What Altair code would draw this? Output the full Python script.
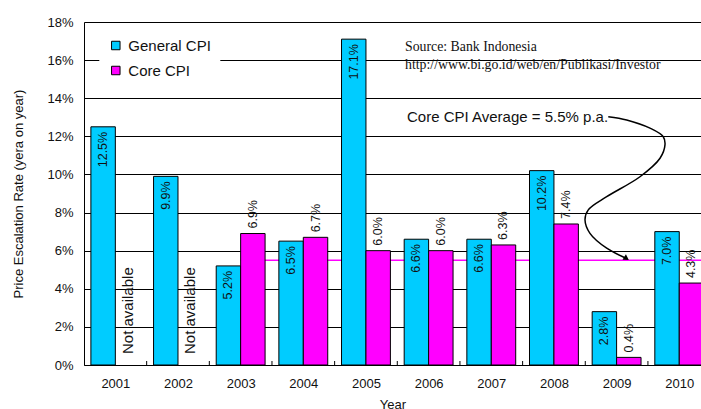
import altair as alt
import pandas as pd

# Annual CPI inflation, Indonesia
years = [2001, 2002, 2003, 2004, 2005, 2006, 2007, 2008, 2009, 2010]
general_cpi = [12.5, 9.9, 5.2, 6.5, 17.1, 6.6, 6.6, 10.2, 2.8, 7.0]
core_cpi = [None, None, 6.9, 6.7, 6.0, 6.0, 6.3, 7.4, 0.4, 4.3]
series_names = ["General CPI", "Core CPI"]
series_colors = ["#00CCFF", "#FF00FF"]
y_ticks = [0, 2, 4, 6, 8, 10, 12, 14, 16, 18]
band_edges = [2001.5, 2002.5, 2003.5, 2004.5, 2005.5, 2006.5, 2007.5, 2008.5, 2009.5]

# Annotation anchors (year, percent)
source_lines = ["Source: Bank Indonesia", "http://www.bi.go.id/web/en/Publikasi/Investor"]
source_year = [2005.623, 2005.623]
source_pct = [16.70, 15.74]
avg_note_year = 2005.655
avg_note_pct = 13.03
arrow_year = [2008.867, 2009.161, 2009.533, 2009.745, 2009.772, 2009.693, 2009.373,
              2008.842, 2008.548, 2008.496, 2008.575, 2008.842, 2009.158]
arrow_pct = [13.03, 12.86, 12.43, 11.98, 11.55, 10.85, 9.88,
             8.83, 8.14, 7.61, 6.91, 6.13, 5.59]

BAR = 0.39

rows = []
for y, g, c in zip(years, general_cpi, core_cpi):
    rows.append({"year": y, "series": "General CPI", "value": g})
    rows.append({"year": y, "series": "Core CPI", "value": c})
df = pd.DataFrame(rows)
bars_df = df.dropna(subset=["value"]).copy()
na_df = df[(df.series == "Core CPI") & df.value.isna()].copy()

core_vals = [v for v in core_cpi if v is not None]
core_avg = sum(core_vals) / len(core_vals)
first_core_year = min(y for y, c in zip(years, core_cpi) if c is not None)
avg_df = pd.DataFrame({"x": [first_core_year], "x2": [2010.5], "avg": [core_avg]})

xscale = alt.Scale(domain=[2000.5, 2010.347], nice=False, zero=False)
yscale = alt.Scale(domain=[0, 18], nice=False)

x_axis = alt.Axis(values=years, format="d", ticks=False, tickSize=0, grid=False,
                  labelFontSize=13, labelPadding=12, labelColor="#111",
                  domainColor="#000", titleFontSize=13,
                  titleFontWeight="normal", titlePadding=8, titleColor="#111")
y_axis = alt.Axis(values=y_ticks, labelExpr="datum.value + '%'", ticks=False, tickSize=0,
                  grid=True, gridColor="#000", gridWidth=1, domainColor="#000",
                  labelFontSize=13, labelPadding=11, labelColor="#111",
                  titleFontSize=13, titleFontWeight="normal", titlePadding=21, titleColor="#111")

X_TITLE = "Year"
Y_TITLE = "Price Escalation Rate (yera on year)"


def xq(field):
    return alt.X(field, type="quantitative", scale=xscale, axis=x_axis, title=X_TITLE)


def yq(field):
    return alt.Y(field, type="quantitative", scale=yscale, axis=y_axis, title=Y_TITLE)


avg_rule = alt.Chart(avg_df).mark_rule(color="#FF00FF", strokeWidth=1.5).encode(
    x=xq("x"), x2="x2:Q", y=yq("avg"),
)

bar_base = alt.Chart(bars_df).transform_calculate(
    x0=f"datum.series == 'General CPI' ? datum.year - {BAR} : datum.year",
    base="0",
).transform_calculate(
    x1=f"datum.x0 + {BAR}",
    xc=f"datum.x0 + {BAR / 2}",
    label="format(datum.value, '.1f') + '%'",
)

bars = bar_base.mark_bar(stroke="#000", strokeWidth=1).encode(
    x=xq("x0"),
    x2="x1:Q",
    y=yq("value"),
    y2="base:Q",
    color=alt.Color(
        "series:N",
        scale=alt.Scale(domain=series_names, range=series_colors),
        legend=alt.Legend(
            title=None, orient="none", legendX=15.3, legendY=7,
            fillColor="#fff", padding=9, symbolType="square", symbolSize=72,
            symbolStrokeColor="#000", symbolStrokeWidth=1, symbolOpacity=1,
            labelFontSize=15, labelColor="#111", labelOffset=5, rowPadding=9,
            labelFont="Liberation Sans",
        ),
    ),
)

general_labels = bar_base.transform_filter("datum.series == 'General CPI'").mark_text(
    angle=270, align="right", baseline="middle", dx=-5, fontSize=12.5, color="#111"
).encode(x=xq("xc"), y=yq("value"), text="label:N")

core_labels = bar_base.transform_filter("datum.series == 'Core CPI'").mark_text(
    angle=270, align="left", baseline="middle", dx=5, fontSize=12.5, color="#111"
).encode(x=xq("xc"), y=yq("value"), text="label:N")

na_labels = alt.Chart(na_df).transform_calculate(
    xc=f"datum.year + {BAR / 2}", y0="0", txt="'Not available'"
).mark_text(angle=270, align="left", baseline="middle", dx=11, fontSize=15, color="#111").encode(
    x=xq("xc"), y=yq("y0"), text="txt:N",
)

edge_ticks = alt.Chart(pd.DataFrame({"edge": band_edges})).mark_rule(color="#000", strokeWidth=1).encode(
    x=xq("edge"),
    y=alt.value(343),
    y2=alt.value(339),
)

source_text = alt.Chart(pd.DataFrame({"x": source_year, "y": source_pct, "t": source_lines})).mark_text(
    align="left", baseline="middle", font="Liberation Serif", fontSize=13.8, color="#111"
).encode(x=xq("x"), y=yq("y"), text="t:N")

avg_text = alt.Chart(pd.DataFrame({"x": [avg_note_year], "y": [avg_note_pct],
                                   "t": [f"Core CPI Average = {core_avg:.1f}% p.a."]})).mark_text(
    align="left", baseline="middle", fontSize=15, color="#111"
).encode(x=xq("x"), y=yq("y"), text="t:N")

arrow_df = pd.DataFrame({"x": arrow_year, "y": arrow_pct, "i": list(range(len(arrow_year)))})
arrow_line = alt.Chart(arrow_df).mark_line(color="#000", strokeWidth=1.5, interpolate="catmull-rom").encode(
    x=xq("x"), y=yq("y"), order="i:Q",
)
arrow_head = alt.Chart(arrow_df.tail(1)).mark_point(
    shape="triangle-right", angle=33, size=40, filled=True, color="#000", opacity=1
).encode(x=xq("x"), y=yq("y"))

chart = alt.layer(
    avg_rule, bars, general_labels, core_labels, na_labels, edge_ticks,
    source_text, avg_text, arrow_line, arrow_head,
).properties(
    width=617,
    height=343,
    autosize=alt.AutoSizeParams(type="none"),
    padding={"left": 84, "top": 22, "right": 0, "bottom": 44},
    background="#fff",
).configure_view(stroke=None).configure(font="Liberation Sans")

chart.save("out.html", embed_options={"renderer": "svg", "actions": False})
